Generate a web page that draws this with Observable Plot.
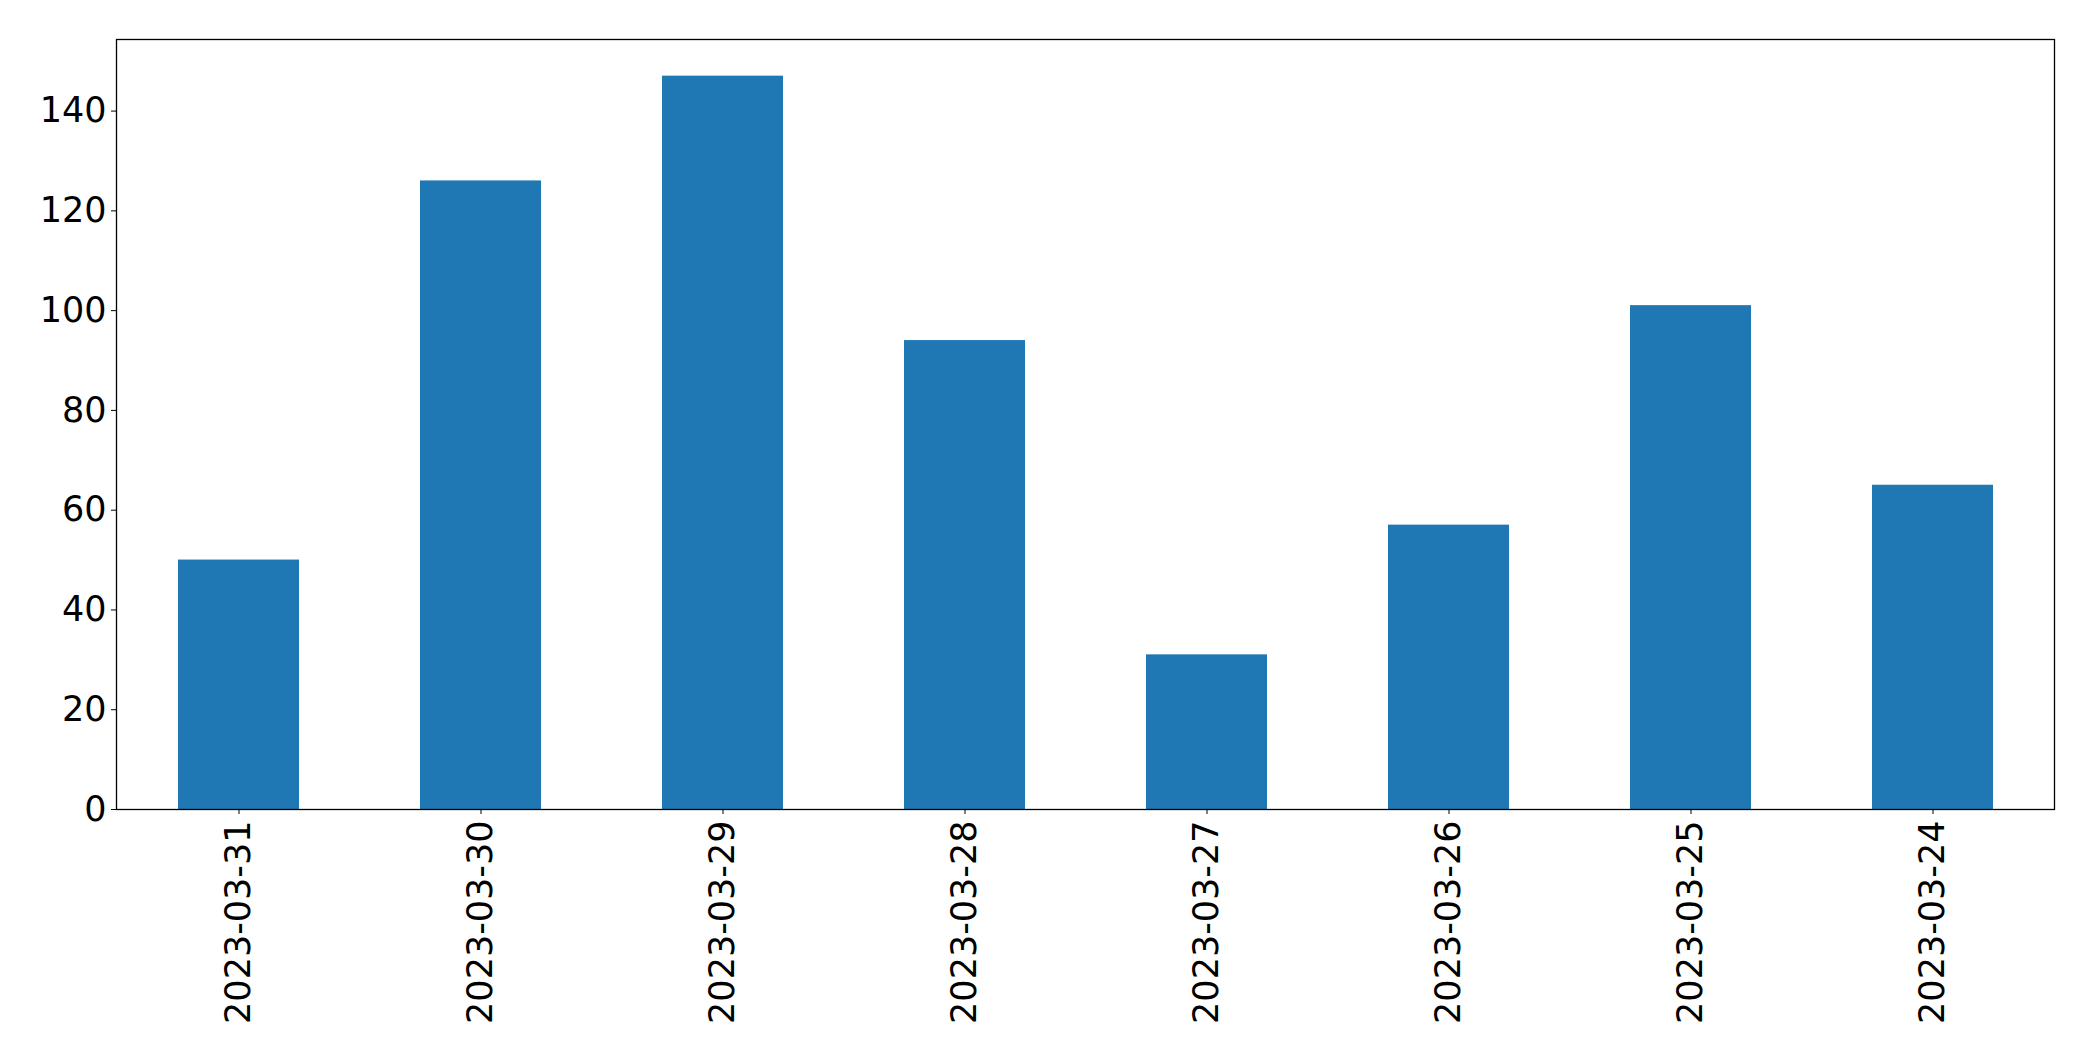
<!DOCTYPE html>
<html>
<head>
<meta charset="utf-8">
<script src="https://cdn.jsdelivr.net/npm/d3@7"></script>
<script src="https://cdn.jsdelivr.net/npm/@observablehq/plot@0.6"></script>
<style>
  html, body { margin: 0; padding: 0; background: #fff; }
  #chart svg { display: block; }
</style>
</head>
<body>
<div id="chart"></div>
<script>
const dates = ["2023-03-31", "2023-03-30", "2023-03-29", "2023-03-28", "2023-03-27", "2023-03-26", "2023-03-25", "2023-03-24"];
const counts = [50, 126, 147, 94, 31, 57, 101, 65];
const yTicks = [0, 20, 40, 60, 80, 100, 120, 140];

const data = dates.map((d, i) => ({date: d, count: counts[i]}));
const yMax = d3.max(counts) * 1.05;

const chart = Plot.plot({
  width: 2093,
  height: 1061,
  marginLeft: 116,
  marginRight: 39,
  marginTop: 39,
  marginBottom: 252,
  style: {fontFamily: "DejaVu Sans", fontSize: "35px", color: "#000", background: "#fff"},
  x: {domain: dates, paddingInner: 0.5, paddingOuter: 0.25, label: null},
  y: {domain: [0, yMax], label: null},
  marks: [
    Plot.barY(data, {x: "date", y: "count", fill: "#1f77b4"}),
    Plot.frame({stroke: "#000", strokeWidth: 1.3}),
    Plot.axisY({ticks: yTicks, tickSize: 5, tickPadding: 5, fontSize: 35, label: null, stroke: "#000"}),
    Plot.axisX({tickSize: 5, tickPadding: 6, tickRotate: -90, fontSize: 35, label: null, stroke: "#000"})
  ]
});
document.getElementById("chart").appendChild(chart);
</script>
</body>
</html>
